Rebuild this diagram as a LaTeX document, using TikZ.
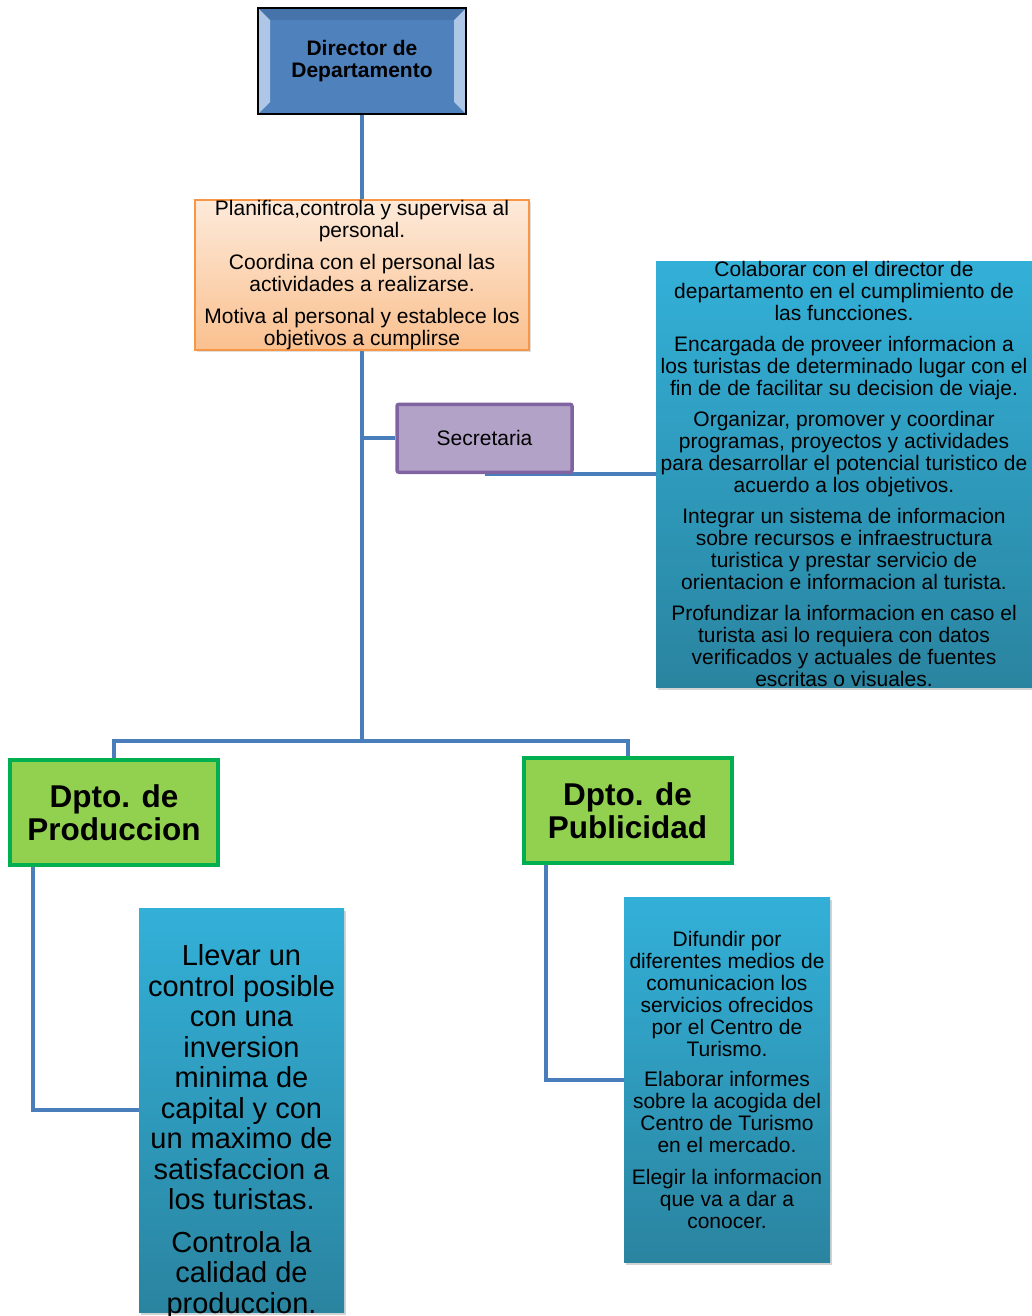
\documentclass[tikz,border=0pt]{standalone}
\usepackage{fontspec}
\setmainfont{Liberation Sans}
\usepackage{tikz}
\usetikzlibrary{positioning,shadows,backgrounds}
\definecolor{dirblue}{HTML}{4F81BD}
\definecolor{dirbevel}{HTML}{C6D9F1}
\definecolor{taskline}{HTML}{F79646}
\definecolor{tasktop}{HTML}{FDEADA}
\definecolor{taskbot}{HTML}{FAC08F}
\definecolor{secfill}{HTML}{B3A2C7}
\definecolor{secline}{HTML}{8064A2}
\definecolor{dptfill}{HTML}{92D050}
\definecolor{dptline}{HTML}{00B050}
\definecolor{infotop}{HTML}{33B0D8}
\definecolor{infobot}{HTML}{2A84A0}
\definecolor{connblue}{HTML}{4A7EBB}
\tikzset{
  dirbox/.style={draw=black,line width=1.5pt,fill=dirblue,minimum width=208,minimum height=106,align=center,
    font=\fontsize{21}{22}\selectfont\bfseries,
    path picture={
      \fill[dirbevel,opacity=.8] (path picture bounding box.north west) -- ([xshift=12pt,yshift=-12pt]path picture bounding box.north west)
        -- ([xshift=12pt,yshift=12pt]path picture bounding box.south west) -- (path picture bounding box.south west) -- cycle;
      \fill[dirbevel,opacity=.8] (path picture bounding box.north east) -- ([xshift=-12pt,yshift=-12pt]path picture bounding box.north east)
        -- ([xshift=-12pt,yshift=12pt]path picture bounding box.south east) -- (path picture bounding box.south east) -- cycle;
      \fill[dirblue!80!black,opacity=.5] (path picture bounding box.north west) -- ([xshift=12pt,yshift=-12pt]path picture bounding box.north west)
        -- ([xshift=-12pt,yshift=-12pt]path picture bounding box.north east) -- (path picture bounding box.north east) -- cycle;
    }},
  taskbox/.style={draw=taskline,line width=1.2pt,top color=tasktop,bottom color=taskbot,minimum width=334,minimum height=150,
    inner sep=0pt,align=center,font=\fontsize{21}{22}\selectfont,drop shadow={opacity=.25,shadow xshift=2pt,shadow yshift=-2pt}},
  secbox/.style={draw=secline,line width=3.5pt,fill=secfill,rounded corners=2pt,minimum width=175,minimum height=68,
    font=\fontsize{21}{22}\selectfont},
  dptbox/.style={draw=dptline,line width=4pt,fill=dptfill,minimum width=208,minimum height=105,align=center,
    font=\fontsize{31.5}{33}\selectfont\bfseries},
  infobox/.style={top color=infotop,bottom color=infobot,inner sep=0pt,align=center,
    font=\fontsize{21}{22}\selectfont,drop shadow={opacity=.35,shadow xshift=2pt,shadow yshift=-2.5pt}},
  conn/.style={draw=connblue,line width=4pt}
}
\begin{document}
\begin{tikzpicture}[x=1pt,y=-1pt]
  \useasboundingbox (0,0) rectangle (1032,1316);
  \clip (0,0) rectangle (1032,1316);
  \node[dirbox] (dir) at (362,61) {Director de\\Departamento};
  \node[taskbox] (task) at (362,275) {Planifica,controla y supervisa al\\personal.\\[10pt]Coordina con el personal las\\actividades a realizarse.\\[10pt]Motiva al personal y establece los\\objetivos a cumplirse};
  \node[secbox] (sec) at (484.5,438.25) {Secretaria};
  \node[infobox,minimum width=376,minimum height=426] (secinfo) at (844,474) {Colaborar con el director de\\departamento en el cumplimiento de\\las funcciones.\\[9pt]Encargada de proveer informacion a\\los turistas de determinado lugar con el\\fin de de facilitar su decision de viaje.\\[9pt]Organizar, promover y coordinar\\programas, proyectos y actividades\\para desarrollar el potencial turistico de\\acuerdo a los objetivos.\\[9pt]Integrar un sistema de informacion\\sobre recursos e infraestructura\\turistica y prestar servicio de\\orientacion e informacion al turista.\\[9pt]Profundizar la informacion en caso el\\turista asi lo requiera con datos\\verificados y actuales de fuentes\\escritas o visuales.};
  \coordinate (hub) at (362,741);
  \node[dptbox] (prod) at (114,812.5) {Dpto. de\\Produccion};
  \node[dptbox] (pub) at (627.5,810.5) {Dpto. de\\Publicidad};
  \node[infobox,minimum width=205,minimum height=404] (prodinfo) at (241.5,1110) {};
  \node[align=center,inner sep=0pt,font=\fontsize{29}{30.5}\selectfont] (prodtext) at (241.5,1132) {Llevar un\\control posible\\con una\\inversion\\minima de\\capital y con\\un maximo de\\satisfaccion a\\los turistas.\\[12pt]Controla la\\calidad de\\produccion.};
  \node[infobox,minimum width=206,minimum height=365] (pubinfo) at (727,1079.5) {Difundir por\\diferentes medios de\\comunicacion los\\servicios ofrecidos\\por el Centro de\\Turismo.\\[8pt]Elaborar informes\\sobre la acogida del\\Centro de Turismo\\en el mercado.\\[10pt]Elegir la informacion\\que va a dar a\\conocer.};
  % connectors behind the boxes
  \begin{scope}[on background layer]
    \draw[conn] (dir.south) -- (hub);
    \draw[conn] (hub |- sec.west) -- (sec.west);
    \draw[conn] (sec.south) -- (secinfo.west);
    \draw[conn] (hub) -| (prod.north);
    \draw[conn] (hub) -| (pub.north);
    \draw[conn] ([xshift=25pt]prod.south west) |- (prodinfo.west);
    \draw[conn] ([xshift=24pt]pub.south west) |- (pubinfo.west);
  \end{scope}
\end{tikzpicture}
\end{document}
